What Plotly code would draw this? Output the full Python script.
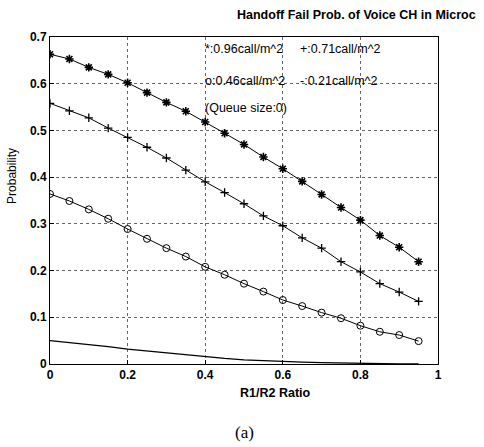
import plotly.graph_objects as go

ratio = [0.0, 0.05, 0.1, 0.15, 0.2, 0.25, 0.3, 0.35, 0.4, 0.45,
         0.5, 0.55, 0.6, 0.65, 0.7, 0.75, 0.8, 0.85, 0.9, 0.95]
p_096 = [0.663, 0.653, 0.635, 0.620, 0.602, 0.581, 0.560, 0.541, 0.518, 0.494,
         0.470, 0.443, 0.418, 0.391, 0.363, 0.335, 0.308, 0.275, 0.250, 0.219]
p_071 = [0.558, 0.542, 0.527, 0.505, 0.485, 0.464, 0.441, 0.415, 0.390, 0.367,
         0.343, 0.317, 0.296, 0.270, 0.248, 0.219, 0.197, 0.172, 0.154, 0.134]
p_046 = [0.364, 0.349, 0.331, 0.311, 0.289, 0.268, 0.248, 0.230, 0.208, 0.191,
         0.172, 0.155, 0.137, 0.124, 0.110, 0.098, 0.082, 0.069, 0.062, 0.049]
p_021 = [0.050, 0.046, 0.041, 0.037, 0.032, 0.028, 0.024, 0.019, 0.015, 0.012,
         0.009, 0.007, 0.005, 0.004, 0.003, 0.002, 0.001, 0.0005, 0.0002, 0.0001]

x_ticks = [0, 0.2, 0.4, 0.6, 0.8, 1]
x_tick_text = ["0", "0.2", "0.4", "0.6", "0.8", "1"]
y_ticks = [0, 0.1, 0.2, 0.3, 0.4, 0.5, 0.6, 0.7]
y_tick_text = ["0", "0.1", "0.2", "0.3", "0.4", "0.5", "0.6", "0.7"]

legend_lines = [
    ("*:0.96call/m^2", 0.395, 0.674),
    ("+:0.71call/m^2", 0.64, 0.674),
    ("o:0.46call/m^2", 0.395, 0.605),
    ("-:0.21call/m^2", 0.64, 0.605),
    ("(Queue size:0)", 0.395, 0.549),
]

fig = go.Figure()
line_style = dict(color="black", width=1)
fig.add_trace(go.Scatter(x=ratio, y=p_096, mode="lines+markers", line=line_style,
                         marker=dict(symbol="asterisk-open", size=7, color="black",
                                     line=dict(width=1.6, color="black"))))
fig.add_trace(go.Scatter(x=ratio, y=p_071, mode="lines+markers", line=line_style,
                         marker=dict(symbol="cross-thin-open", size=6, color="black",
                                     line=dict(width=1.3, color="black"))))
fig.add_trace(go.Scatter(x=ratio, y=p_046, mode="lines+markers", line=line_style,
                         marker=dict(symbol="circle-open", size=7, color="black",
                                     line=dict(width=1, color="black"))))
fig.add_trace(go.Scatter(x=ratio, y=p_021, mode="lines", line=dict(color="black", width=1.3)))

tick_font = dict(family="Liberation Sans, Arial", size=12, color="black", weight="bold")
axis_common = dict(
    showline=True, mirror=True, linecolor="black", linewidth=1,
    ticks="inside", ticklen=4, tickcolor="black",
    showgrid=True, gridcolor="#666666", griddash="dot", gridwidth=1,
    zeroline=False, tickfont=tick_font,
)
fig.update_xaxes(range=[0, 1], tickvals=x_ticks, ticktext=x_tick_text, **axis_common)
fig.update_yaxes(range=[0, 0.7], tickvals=y_ticks, ticktext=y_tick_text, **axis_common)

ann_font = dict(family="Liberation Sans, Arial", size=12.5, color="black")
for txt, xx, yy in legend_lines:
    fig.add_annotation(x=xx, y=yy, xref="x", yref="y", text=txt, showarrow=False,
                       xanchor="left", yanchor="middle", font=ann_font)

fig.add_annotation(x=0.477, y=1.067, xref="paper", yref="paper",
                   text="<b>Handoff Fail Prob. of Voice CH in Microc</b>", showarrow=False,
                   xanchor="left", yanchor="middle",
                   font=dict(family="Liberation Sans, Arial", size=12.5, color="black"))
fig.add_annotation(x=0.58, y=-0.089, xref="paper", yref="paper",
                   text="<b>R1/R2 Ratio</b>", showarrow=False,
                   xanchor="center", yanchor="middle",
                   font=dict(family="Liberation Sans, Arial", size=12.5, color="black"))
fig.add_annotation(x=-0.098, y=0.575, xref="paper", yref="paper",
                   text="Probability", showarrow=False, textangle=-90,
                   xanchor="center", yanchor="middle",
                   font=dict(family="Liberation Sans, Arial", size=12, color="black"))
fig.add_annotation(x=0.50, y=-0.211, xref="paper", yref="paper",
                   text="(a)", showarrow=False,
                   xanchor="center", yanchor="middle",
                   font=dict(family="Liberation Serif, Times New Roman", size=17, color="black"))

fig.update_layout(
    width=484, height=447,
    margin=dict(l=50, r=46, t=37, b=83),
    paper_bgcolor="white", plot_bgcolor="white",
    showlegend=False,
)

fig.write_html("out.html")
